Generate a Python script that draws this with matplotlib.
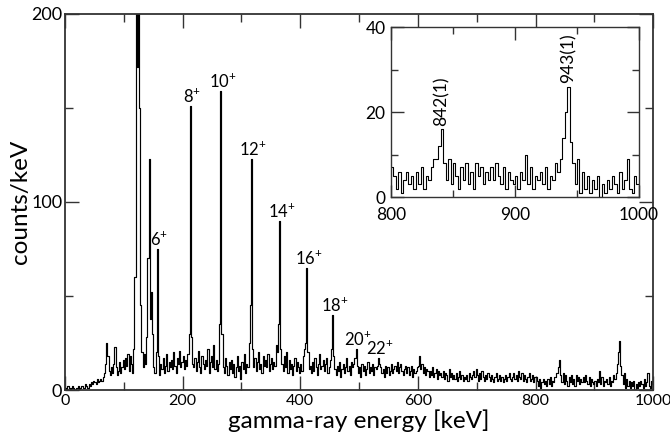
import numpy as np
import matplotlib
matplotlib.use("Agg")
from matplotlib import pyplot as plt
from matplotlib.ticker import MultipleLocator

plt.rcParams['font.family'] = ['Lato', 'DejaVu Sans']
plt.rcParams['mathtext.fontset'] = 'custom'
plt.rcParams['mathtext.rm'] = 'Lato'

# 2 keV bins, counts/keV, one row per 20 keV
counts = [
    1, 0, 2, 1, 0, 1, 2, 1, 0, 1,
    1, 2, 0, 1, 2, 1, 1, 3, 2, 1,
    3, 2, 4, 3, 5, 4, 3, 6, 4, 5,
    6, 5, 7, 9, 14, 25, 18, 10, 8, 12,
    9, 14, 23, 12, 8, 10, 15, 9, 12, 16,
    11, 17, 13, 19, 10, 18, 14, 9, 22, 60,
    260, 172, 240, 150, 45, 20, 12, 19, 14, 28,
    70, 123, 38, 52, 30, 12, 9, 20, 75, 18,
    8, 14, 11, 17, 9, 13, 19, 10, 15, 12,
    16, 11, 20, 13, 9, 17, 14, 21, 12, 15,
    18, 11, 16, 13, 19, 30, 151, 28, 14, 12,
    17, 10, 15, 21, 12, 9, 18, 14, 11, 16,
    13, 22, 9, 15, 18, 12, 24, 11, 16, 10,
    14, 35, 159, 30, 12, 9, 17, 13, 8, 15,
    11, 16, 9, 14, 7, 12, 18, 10, 13, 6,
    15, 11, 19, 9, 14, 12, 25, 45, 123, 22,
    12, 17, 10, 15, 20, 11, 14, 9, 18, 13,
    16, 12, 19, 10, 14, 17, 11, 15, 13, 24,
    20, 35, 90, 22, 14, 10, 18, 12, 20, 9,
    16, 11, 14, 8, 13, 17, 10, 15, 12, 9,
    14, 10, 18, 22, 25, 65, 20, 11, 13, 9,
    15, 10, 17, 12, 8, 14, 19, 11, 13, 16,
    10, 14, 17, 9, 12, 16, 22, 40, 18, 11,
    8, 13, 10, 15, 7, 11, 14, 9, 12, 17,
    10, 13, 8, 15, 12, 14, 17, 22, 13, 9,
    12, 7, 14, 10, 13, 8, 11, 15, 9, 12,
    10, 14, 8, 12, 11, 13, 17, 14, 12, 9,
    11, 7, 13, 9, 12, 8, 10, 14, 9, 11,
    13, 10, 15, 9, 12, 14, 10, 8, 11, 13,
    9, 12, 8, 10, 13, 7, 11, 9, 10, 12,
    13, 18, 11, 14, 9, 12, 8, 11, 10, 7,
    10, 8, 12, 7, 9, 11, 6, 10, 8, 9,
    7, 10, 6, 9, 8, 5, 11, 7, 9, 6,
    8, 6, 9, 5, 7, 10, 6, 8, 5, 7,
    6, 8, 5, 9, 7, 6, 8, 10, 7, 11,
    8, 5, 9, 6, 10, 7, 5, 8, 6, 9,
    7, 5, 8, 6, 4, 7, 9, 5, 6, 8,
    5, 7, 4, 6, 8, 5, 7, 9, 6, 5,
    7, 9, 6, 8, 5, 10, 7, 6, 9, 5,
    8, 6, 4, 7, 9, 5, 6, 8, 4, 7,
    7, 5, 2, 6, 1, 4, 6, 3, 5, 2,
    6, 3, 7, 2, 5, 4, 7, 9, 9, 12,
    16, 8, 4, 9, 3, 8, 5, 2, 7, 4,
    8, 3, 6, 2, 8, 5, 7, 3, 6, 4,
    7, 4, 8, 5, 3, 7, 2, 6, 4, 3,
    5, 2, 6, 4, 10, 3, 7, 2, 5, 4,
    6, 3, 7, 2, 5, 4, 8, 6, 9, 14,
    20, 26, 13, 8, 3, 9, 1, 6, 2, 5,
    1, 4, 2, 5, 0, 3, 1, 4, 2, 5,
    3, 1, 6, 2, 4, 9, 2, 1, 5, 3,
]
energy = np.arange(1, 1000, 2)
counts = np.array(counts)

# yrast band transitions
spins = ['6', '8', '10', '12', '14', '16', '18', '20', '22']
peak_e = [157, 213, 265, 317, 365, 411, 455, 495, 533]
peak_h = [75, 151, 159, 123, 90, 65, 40, 22, 17]

inset_e = [841, 943]
inset_h = [16, 26]
inset_lbl = ['842(1)', '943(1)']

fig = plt.figure(figsize=(6.7, 4.36), dpi=100)
ax = fig.add_axes([0.097, 0.1055, 0.878, 0.8625])
ax.plot(energy, counts, drawstyle='steps-mid', color='black', lw=0.85)
ax.set_xlim(0, 1000)
ax.set_ylim(0, 200)
ax.xaxis.set_major_locator(MultipleLocator(200))
ax.xaxis.set_minor_locator(MultipleLocator(100))
ax.yaxis.set_major_locator(MultipleLocator(100))
ax.yaxis.set_minor_locator(MultipleLocator(50))
ax.tick_params(which='both', direction='in', top=True, right=True,
               color='#333333')
ax.tick_params(axis='x', labelsize=11.5, pad=3)
ax.tick_params(axis='y', labelsize=13, pad=2)
ax.tick_params(which='major', length=10, width=1)
ax.tick_params(which='minor', length=6, width=1)
for s in ax.spines.values():
    s.set_linewidth(1.3)
    s.set_color('#333333')
ax.set_xlabel('gamma-ray energy [keV]', fontsize=17.5, labelpad=1)
ax.set_ylabel('counts/keV', fontsize=17.5, labelpad=0)

for sp, e, h in zip(spins, peak_e, peak_h):
    ax.text(e + 3, h + 0.5, r'$\mathregular{%s^{+}}$' % sp, ha='center',
            va='bottom', fontsize=12)

# zoom on the high-energy part
ins = fig.add_axes([0.5836, 0.548, 0.3701, 0.39])
ins.plot(energy, counts, drawstyle='steps-mid', color='black', lw=0.8)
ins.set_xlim(800, 1000)
ins.set_ylim(0, 40)
ins.xaxis.set_major_locator(MultipleLocator(100))
ins.xaxis.set_minor_locator(MultipleLocator(50))
ins.yaxis.set_major_locator(MultipleLocator(20))
ins.yaxis.set_minor_locator(MultipleLocator(10))
ins.tick_params(which='both', direction='in', top=True, right=True,
                labelsize=12.5, color='#333333')
ins.tick_params(axis='x', pad=7)
ins.tick_params(axis='y', pad=4)
ins.tick_params(which='major', length=9, width=1)
ins.tick_params(which='minor', length=5, width=1)
for s in ins.spines.values():
    s.set_linewidth(1.0)
    s.set_color('#333333')
for e, h, t in zip(inset_e, inset_h, inset_lbl):
    ins.text(e, h + 0.8, t, rotation=90, ha='center', va='bottom', fontsize=12.5)

fig.savefig('out.png', dpi=100)
